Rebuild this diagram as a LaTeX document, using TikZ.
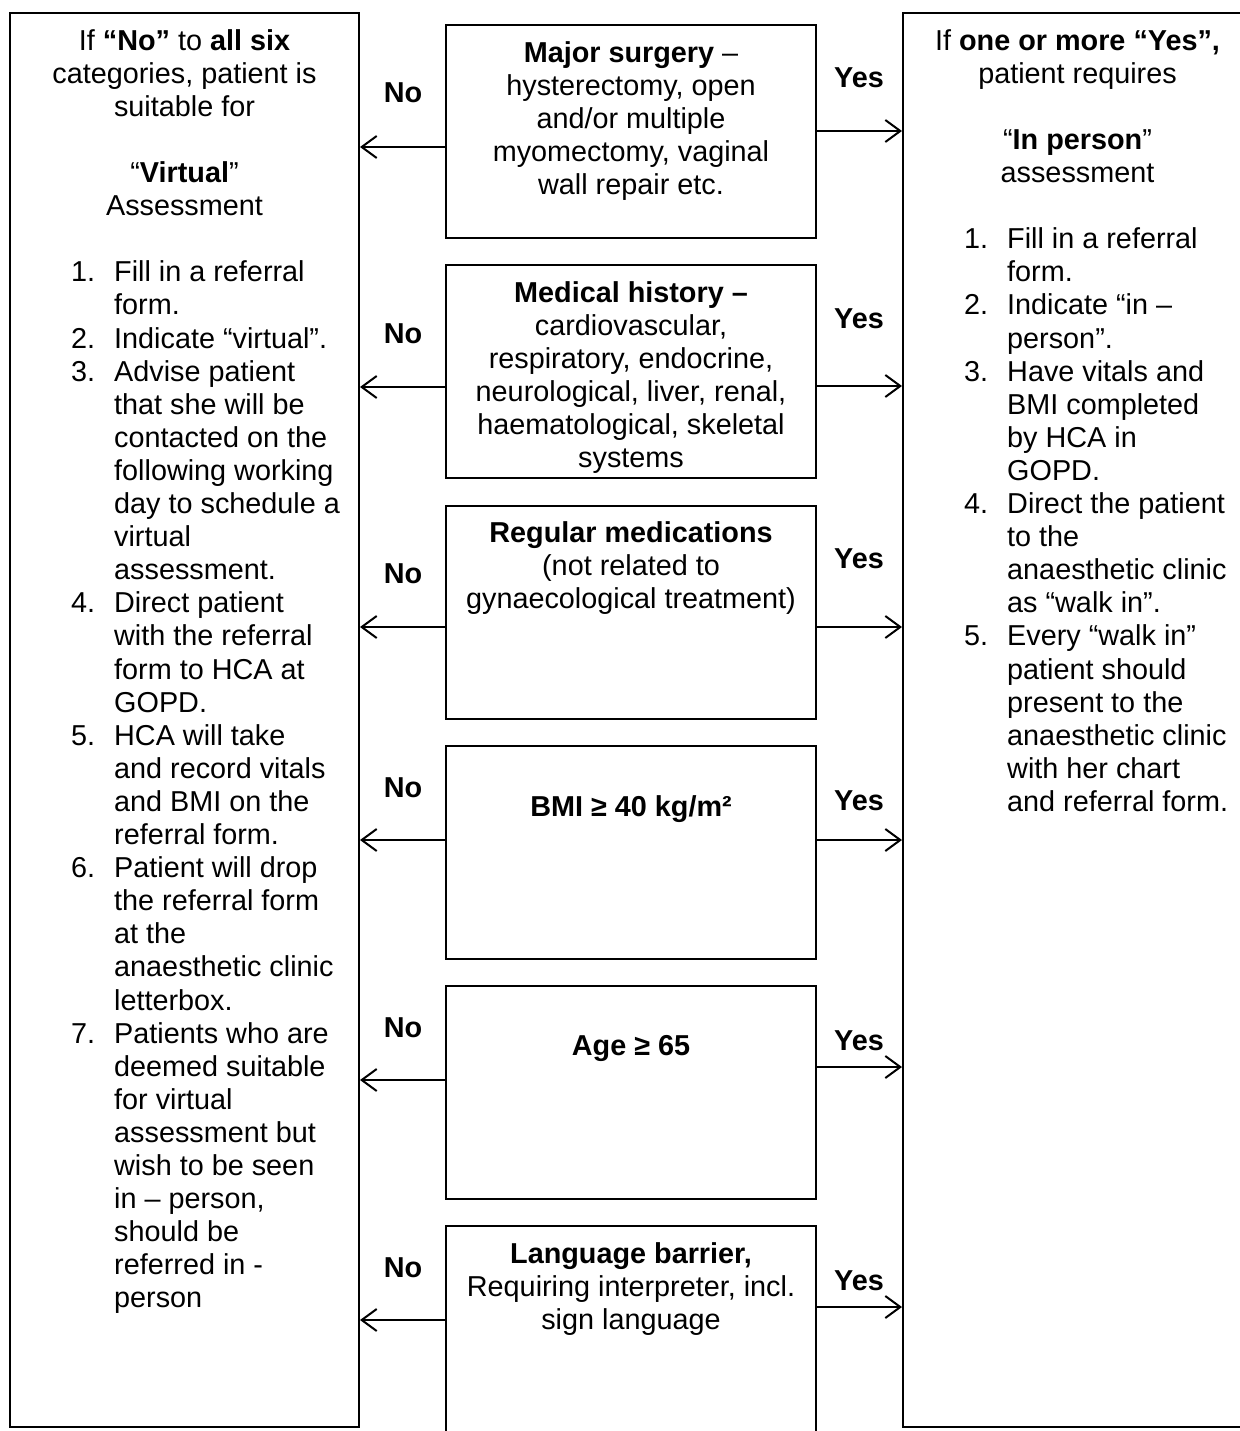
\documentclass[tikz,border=0pt]{standalone}
\usepackage{fontspec}
\setmainfont{Liberation Sans}
\usetikzlibrary{arrows.meta}
\newcommand\litem[1]{\makebox[43pt][l]{#1}}
\newcommand\lcont{\hspace*{43pt}}
\begin{document}
\begin{tikzpicture}[x=1pt,y=-1pt,
  txt/.style={font=\fontsize{28.8}{33.1}\selectfont, inner sep=0pt},
  box/.style={draw, line width=2pt, inner sep=0pt},
  arr/.style={line width=2pt, -{Straight Barb[length=15pt,width=22pt,line width=2pt]}},
  lab/.style={font=\fontsize{28.8}{33.1}\selectfont\bfseries, inner sep=0pt, anchor=base}]
\useasboundingbox (0,0) rectangle (1239,1431);

% outer columns
\node[box, minimum width=349pt, minimum height=1414pt] (L) at (184.5,720) {};
\node[box, minimum width=349pt, minimum height=1414pt] (R) at (1077.5,720) {};

% middle boxes
\node[box, minimum width=370pt, minimum height=213pt] (b1) at (631,131.5) {};
\node[box, minimum width=370pt, minimum height=213pt] (b2) at (631,371.5) {};
\node[box, minimum width=370pt, minimum height=213pt] (b3) at (631,612) {};
\node[box, minimum width=370pt, minimum height=213pt] (b4) at (631,852.5) {};
\node[box, minimum width=370pt, minimum height=213pt] (b5) at (631,1092.5) {};
\node[box, minimum width=370pt, minimum height=230pt] (b6) at (631,1341) {};

% middle texts
\node[txt, anchor=north, align=center] (t1) at (631,38.8) {\strut\textbf{Major surgery} –\\hysterectomy, open\\and/or multiple\\myomectomy, vaginal\\wall repair etc.};
\node[txt, anchor=north, align=center] (t2) at (631,278.8) {\strut\textbf{Medical history –}\\cardiovascular,\\respiratory, endocrine,\\neurological, liver, renal,\\haematological, skeletal\\systems};
\node[txt, anchor=north, align=center] (t3) at (631,518.8) {\strut\textbf{Regular medications}\\(not related to\\gynaecological treatment)};
\node[txt, anchor=base] (t4) at (631,816) {\textbf{BMI ≥ 40 kg/m²}};
\node[txt, anchor=base] (t5) at (631,1055) {\textbf{Age ≥ 65}};
\node[txt, anchor=north, align=center] (t6) at (631,1239.8) {\strut\textbf{Language barrier,}\\Requiring interpreter, incl.\\sign language};

% left column text
\node[txt, anchor=north, align=center] (Lh) at (184.5,26.83) {\strut If \textbf{“No”} to \textbf{all six}\\categories, patient is\\suitable for\\[33.1pt]“\textbf{Virtual}”\\Assessment};
\node[txt, anchor=north west, align=left] (Ll) at (71,258.5) {\strut\litem{1.}Fill in a referral\\
\lcont form.\\
\litem{2.}Indicate “virtual”.\\
\litem{3.}Advise patient\\
\lcont that she will be\\
\lcont contacted on the\\
\lcont following working\\
\lcont day to schedule a\\
\lcont virtual\\
\lcont assessment.\\
\litem{4.}Direct patient\\
\lcont with the referral\\
\lcont form to HCA at\\
\lcont GOPD.\\
\litem{5.}HCA will take\\
\lcont and record vitals\\
\lcont and BMI on the\\
\lcont referral form.\\
\litem{6.}Patient will drop\\
\lcont the referral form\\
\lcont at the\\
\lcont anaesthetic clinic\\
\lcont letterbox.\\
\litem{7.}Patients who are\\
\lcont deemed suitable\\
\lcont for virtual\\
\lcont assessment but\\
\lcont wish to be seen\\
\lcont in – person,\\
\lcont should be\\
\lcont referred in -\\
\lcont person};

% right column text
\node[txt, anchor=north, align=center] (Rh) at (1077.5,26.83) {\strut If \textbf{one or more “Yes”,}\\patient requires\\[33.1pt]“\textbf{In person}”\\assessment};
\node[txt, anchor=north west, align=left] (Rl) at (964,225.4) {\strut\litem{1.}Fill in a referral\\
\lcont form.\\
\litem{2.}Indicate “in –\\
\lcont person”.\\
\litem{3.}Have vitals and\\
\lcont BMI completed\\
\lcont by HCA in\\
\lcont GOPD.\\
\litem{4.}Direct the patient\\
\lcont to the\\
\lcont anaesthetic clinic\\
\lcont as “walk in”.\\
\litem{5.}Every “walk in”\\
\lcont patient should\\
\lcont present to the\\
\lcont anaesthetic clinic\\
\lcont with her chart\\
\lcont and referral form.};

% labels
\node[lab] (n1) at (403,103) {No};
\node[lab] (n2) at (403,343) {No};
\node[lab] (n3) at (403,583) {No};
\node[lab] (n4) at (403,797) {No};
\node[lab] (n5) at (403,1037) {No};
\node[lab] (n6) at (403,1277) {No};
\node[lab] (y1) at (859,88) {Yes};
\node[lab] (y2) at (859,328) {Yes};
\node[lab] (y3) at (859,568) {Yes};
\node[lab] (y4) at (859,810) {Yes};
\node[lab] (y5) at (859,1050) {Yes};
\node[lab] (y6) at (859,1290) {Yes};

% arrows
\draw[arr] (b1.west |- 0,147) -- (L.east |- 0,147);
\draw[arr] (b2.west |- 0,387) -- (L.east |- 0,387);
\draw[arr] (b3.west |- 0,627) -- (L.east |- 0,627);
\draw[arr] (b4.west |- 0,840) -- (L.east |- 0,840);
\draw[arr] (b5.west |- 0,1080) -- (L.east |- 0,1080);
\draw[arr] (b6.west |- 0,1320) -- (L.east |- 0,1320);
\draw[arr] (b1.east |- 0,131) -- (R.west |- 0,131);
\draw[arr] (b2.east |- 0,386) -- (R.west |- 0,386);
\draw[arr] (b3.east |- 0,627) -- (R.west |- 0,627);
\draw[arr] (b4.east |- 0,840) -- (R.west |- 0,840);
\draw[arr] (b5.east |- 0,1067) -- (R.west |- 0,1067);
\draw[arr] (b6.east |- 0,1307) -- (R.west |- 0,1307);
\end{tikzpicture}
\end{document}
